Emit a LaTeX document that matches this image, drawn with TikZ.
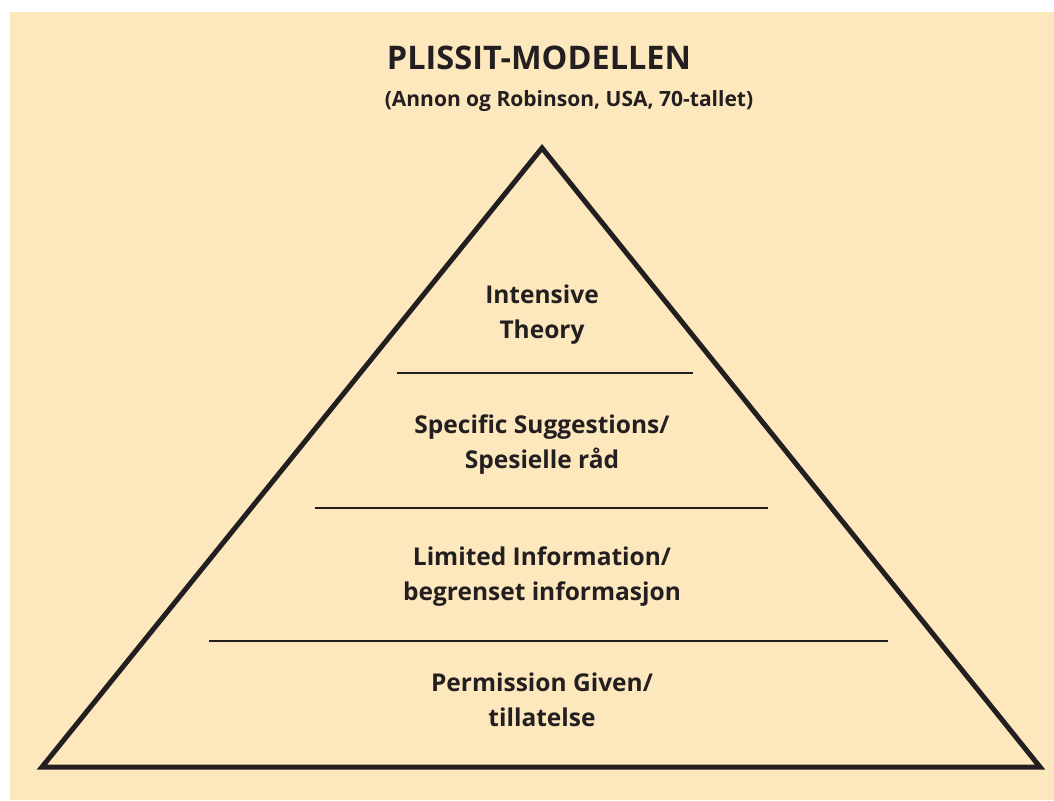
\documentclass[tikz,border=0pt]{standalone}
\usepackage{fontspec}
\setmainfont{Open Sans}
\definecolor{peach}{HTML}{FDE8BE}
\definecolor{ink}{HTML}{231F20}

\begin{document}
\begin{tikzpicture}[x=1pt,y=-1pt,
	level/.style={align=center, font=\bfseries\fontsize{24.5}{35}\selectfont, text=ink},
	divider/.style={draw=ink, line width=1.2pt}]
	\useasboundingbox (0,0) rectangle (1054,800);
	\fill [peach] (10,12) rectangle (1054,800);

	% title
	\node [font=\bfseries\fontsize{32.5}{38}\selectfont, text=ink] (title) at (539,58) {PLISSIT-MODELLEN};
	\node [font=\bfseries\fontsize{21}{25}\selectfont, text=ink] (subtitle) at (569,101) {(Annon og Robinson, USA, 70-tallet)};

	% pyramid
	\coordinate (top) at (542,148);
	\coordinate (left) at (42,767);
	\coordinate (right) at (1040,767);
	\draw [ink, line width=5pt, line join=miter] (top) -- (right) -- (left) -- cycle;

	\coordinate (d1l) at (397,373);
	\coordinate (d1r) at (693,373);
	\coordinate (d2l) at (315,508);
	\coordinate (d2r) at (768,508);
	\coordinate (d3l) at (209,641);
	\coordinate (d3r) at (888,641);
	\draw [divider] (d1l) -- (d1r);
	\draw [divider] (d2l) -- (d2r);
	\draw [divider] (d3l) -- (d3r);

	\node [level] (it) at (542,315) {Intensive\\Theory};
	\node [level] (ss) at (542,445) {Specific Suggestions/\\Spesielle råd};
	\node [level] (li) at (542,577) {Limited Information/\\begrenset informasjon};
	\node [level] (pg) at (542,700) {Permission Given/\\tillatelse};
\end{tikzpicture}
\end{document}
